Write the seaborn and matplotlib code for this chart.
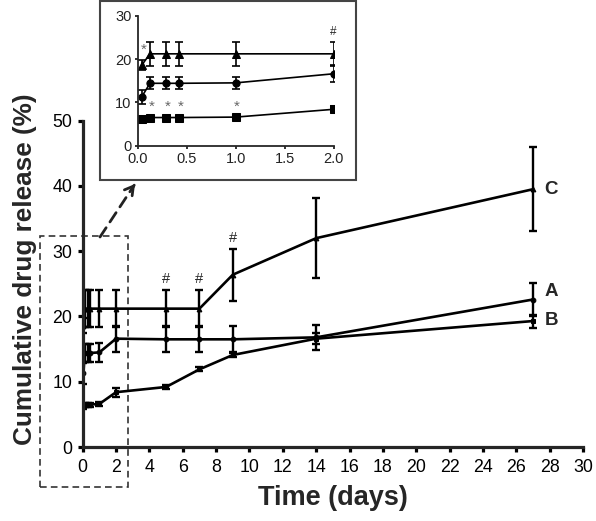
import numpy as np
import pandas as pd
import seaborn as sns
import matplotlib.pyplot as plt
from matplotlib.patches import Rectangle

# release data (days, cumulative %)
days = [0.042, 0.125, 0.29, 0.42, 1, 2, 5, 7, 9, 14, 27]
rel_A = [11.3, 14.4, 14.4, 14.4, 14.5, 16.6, 16.5, 16.5, 16.5, 16.8, 22.6]
err_A = [1.6, 1.4, 1.4, 1.4, 1.4, 2.0, 2.0, 2.0, 2.0, 1.9, 2.5]
rel_B = [6.1, 6.5, 6.5, 6.5, 6.6, 8.4, 9.2, 11.9, 14.1, 16.6, 19.3]
err_B = [0.3, 0.3, 0.3, 0.3, 0.3, 0.7, 0.3, 0.3, 0.3, 0.8, 1.0]
rel_C = [18.6, 21.2, 21.2, 21.2, 21.2, 21.2, 21.2, 21.2, 26.4, 32.0, 39.5]
err_C = [1.2, 2.8, 2.8, 2.8, 2.8, 2.8, 2.8, 2.8, 4.0, 6.1, 6.4]

labels = ["A", "B", "C"]
label_y = [23.8, 19.4, 39.4]
hash_days_main = [5, 7, 9]
hash_days_inset = [2]
star_days_C = [0.042]
star_days_B = [0.125, 0.29, 0.42, 1]

x_ticks = list(range(0, 31, 2))
y_ticks = [0, 10, 20, 30, 40, 50]
inset_x_ticks = [0.0, 0.5, 1.0, 1.5, 2.0]
inset_y_ticks = [0, 10, 20, 30]

series = {"A": (rel_A, err_A), "B": (rel_B, err_B), "C": (rel_C, err_C)}
df = pd.concat([pd.DataFrame({"day": days, "release": v, "err": e, "sample": k})
                for k, (v, e) in series.items()], ignore_index=True)

sns.set_style("ticks")
plt.rcParams['font.family'] = ['Liberation Sans', 'DejaVu Sans']

markers = {"A": "o", "B": "s", "C": "^"}
black = {"A": "black", "B": "black", "C": "black"}

fig = plt.figure(figsize=(5.96, 5.21), dpi=100)
W, H = 596, 521


def draw(ax, lw, ms, cap, elw):
    sns.lineplot(data=df, x="day", y="release", hue="sample", style="sample",
                 markers=markers, dashes=False, palette=black, legend=False,
                 errorbar=None, linewidth=lw, markersize=ms,
                 markeredgecolor="black", ax=ax)
    for k, g in df.groupby("sample"):
        ax.errorbar(g["day"], g["release"], yerr=g["err"], fmt="none",
                    ecolor="black", elinewidth=elw, capsize=cap, capthick=elw)


# main axes
ax = fig.add_axes([82.7 / W, 1 - 447 / H, 500.3 / W, 326.3 / H])
draw(ax, 1.9, 3.4, 3.0, 1.7)
ax.set_xlim(0, 30)
ax.set_ylim(0, 50)
ax.set_xticks(x_ticks)
ax.set_yticks(y_ticks)
sns.despine(ax=ax)
for s in ["left", "bottom"]:
    ax.spines[s].set_linewidth(2.3)
ax.tick_params(width=2.3, length=3.5, labelsize=12.8, colors="black")
ax.tick_params(axis="x", pad=5)
ax.tick_params(axis="y", pad=4)
ax.set_xlabel("Time (days)", fontsize=19.5, fontweight="bold")
ax.set_ylabel("Cumulative drug release (%)", fontsize=18.8, fontweight="bold")
ax.xaxis.set_label_coords(0.5, -0.115)
ax.yaxis.set_label_coords(-0.0913, 0.545)

for lab, ly in zip(labels, label_y):
    ax.text(27.7, ly, lab, fontsize=13.5, fontweight="bold", ha="left", va="center")
for d in hash_days_main:
    i = days.index(d)
    ax.text(d, rel_C[i] + err_C[i] + 1.7, "#", fontsize=10.5, ha="center", va="center")

# dashed zoom box and arrow
ax.add_patch(Rectangle((-2.56, -6.1), 5.25, 38.5, fill=False, ls=(0, (4, 2.5)),
                       lw=1.2, ec="#333333", clip_on=False))
p0 = (100 / W, 1 - 237 / H)
p1 = (135 / W, 1 - 184 / H)
ax.annotate("", xy=p1, xytext=p0, xycoords="figure fraction",
            arrowprops=dict(arrowstyle="-", ls=(0, (4, 2.5)), lw=2, color="#222222",
                            shrinkA=0, shrinkB=1))
ax.annotate("", xy=p1, xytext=(p1[0] - 0.004, p1[1] - 0.006), xycoords="figure fraction",
            arrowprops=dict(arrowstyle="->,head_length=0.6,head_width=0.35", lw=2,
                            color="#222222", shrinkA=0, shrinkB=0))

# inset frame
fig.add_artist(Rectangle((100 / W, 1 - 180 / H), 255.7 / W, 179 / H, fill=False,
                         lw=1.5, ec="#444444", transform=fig.transFigure))

# inset axes
axi = fig.add_axes([137.7 / W, 1 - 145.7 / H, 196 / W, 130 / H])
draw(axi, 1.2, 5.2, 2.6, 1.2)
axi.set_xlim(0, 2)
axi.set_ylim(0, 30)
axi.set_xticks(inset_x_ticks)
axi.set_yticks(inset_y_ticks)
axi.set_xticklabels([f"{t:.1f}" for t in inset_x_ticks])
sns.despine(ax=axi)
for s in ["left", "bottom"]:
    axi.spines[s].set_linewidth(1.3)
axi.tick_params(width=1.3, length=2.5, labelsize=10.5, colors="#222222", pad=2)
axi.set_xlabel("")
axi.set_ylabel("")
axi.patch.set_alpha(0)

for d in star_days_C:
    axi.text(d + 0.015, 22.1, "*", fontsize=11, color="#666666", ha="center", va="center")
for d in star_days_B:
    axi.text(d + 0.015, 9.0, "*", fontsize=11, color="#666666", ha="center", va="center")
for d in hash_days_inset:
    i = days.index(d)
    axi.text(d, rel_C[i] + err_C[i] + 2.3, "#", fontsize=8.5, ha="center", va="center")

fig.savefig("out.png", dpi=100)
